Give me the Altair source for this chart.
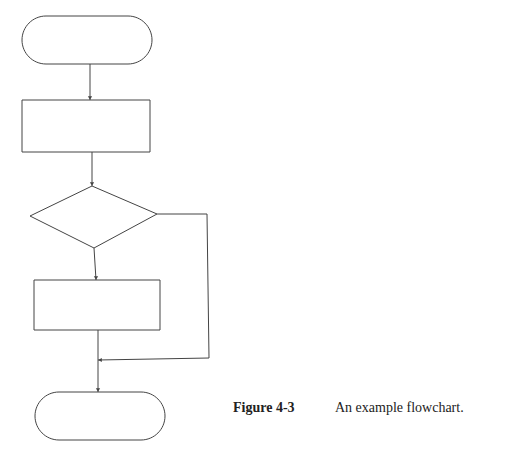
import altair as alt
import pandas as pd

# terminators and boxes: x, x2, y, y2 (page pixels)
terminators = [(22, 152, 16, 64), (35, 165, 392, 440)]
boxes = [(22, 150, 100, 152), (34, 160, 280, 330)]
# diamond outline, clockwise
diamond_x = [30, 92, 157, 94, 30]
diamond_y = [216, 186, 214, 248, 216]
# connectors: x, y, x2, y2
connectors = [(90, 64, 90, 100), (92, 152, 92, 186), (94, 248, 96, 280),
              (98, 330, 98, 392), (157, 214, 207, 214), (207, 214, 209, 358),
              (209, 358, 98, 360)]
# arrow heads: x, y, shape
heads = [(90, 98, "triangle-down"), (92, 184, "triangle-down"),
         (96, 278, "triangle-down"), (98, 390, "triangle-down"),
         (100, 360, "triangle-left")]
caption_label = "Figure 4-3"
caption_text = "An example flowchart."

ink = "#444444"
xs = alt.Scale(domain=[8, 512], nice=False, zero=False)
ys = alt.Scale(domain=[456, 8], nice=False, zero=False)
noax = None

term_df = pd.DataFrame(terminators, columns=["x", "x2", "y", "y2"])
box_df = pd.DataFrame(boxes, columns=["x", "x2", "y", "y2"])
dia_df = pd.DataFrame({"x": diamond_x, "y": diamond_y, "o": range(len(diamond_x))})
con_df = pd.DataFrame(connectors, columns=["x", "y", "x2", "y2"])
head_df = pd.DataFrame(heads, columns=["x", "y", "shape"])

def rects(df, radius):
    return alt.Chart(df).mark_rect(fill="white", stroke=ink, strokeWidth=1,
                                   cornerRadius=radius).encode(
        x=alt.X("x:Q", scale=xs, axis=noax), x2="x2",
        y=alt.Y("y:Q", scale=ys, axis=noax), y2="y2")

dia = alt.Chart(dia_df).mark_line(color=ink, strokeWidth=1).encode(
    x=alt.X("x:Q", scale=xs, axis=noax), y=alt.Y("y:Q", scale=ys, axis=noax),
    order="o:Q")

lines = alt.Chart(con_df).mark_rule(color=ink, strokeWidth=1).encode(
    x=alt.X("x:Q", scale=xs, axis=noax), x2="x2",
    y=alt.Y("y:Q", scale=ys, axis=noax), y2="y2")

arrows = alt.Chart(head_df).mark_point(filled=True, color=ink, size=18, opacity=1).encode(
    x=alt.X("x:Q", scale=xs, axis=noax), y=alt.Y("y:Q", scale=ys, axis=noax),
    shape=alt.Shape("shape:N", scale=None))

def caption(x, t, weight):
    df = pd.DataFrame({"x": [x], "y": [408], "t": [t]})
    return alt.Chart(df).mark_text(align="left", baseline="middle", fontSize=14,
                                   font="Liberation Serif", color="#222",
                                   fontWeight=weight).encode(
        x=alt.X("x:Q", scale=xs, axis=noax), y=alt.Y("y:Q", scale=ys, axis=noax),
        text="t:N")

chart = (rects(term_df, 24) + rects(box_df, 0) + dia + lines + arrows
         + caption(233, caption_label, "bold") + caption(335, caption_text, "normal")).properties(
    width=504, height=448, padding=0, autosize="none", background="white"
).configure_view(stroke=None)

chart.save("out.html", embed_options={"renderer": "svg", "actions": False})
